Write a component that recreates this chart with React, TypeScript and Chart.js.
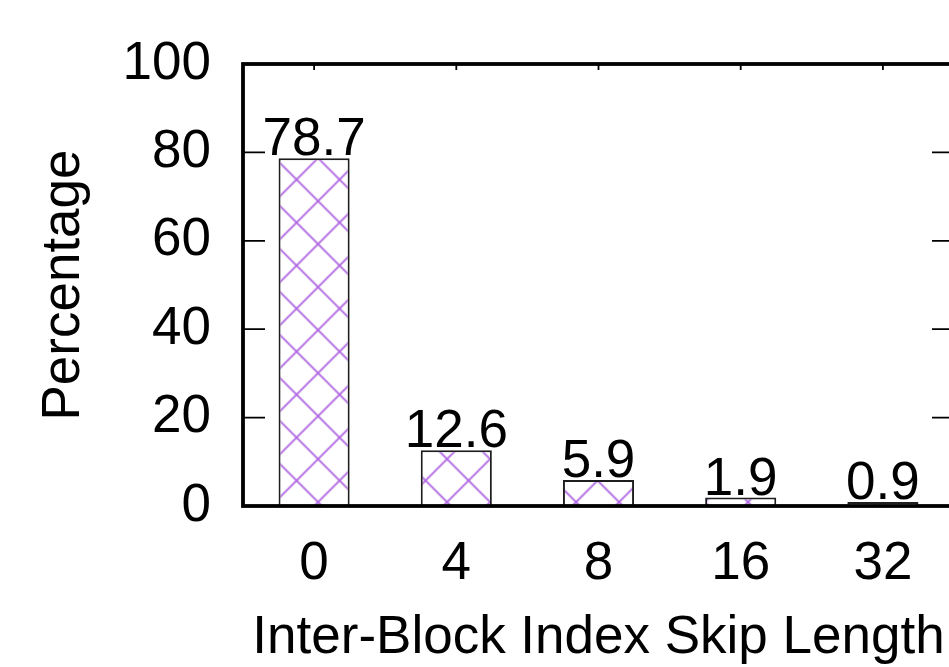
import React, { useEffect, useRef } from "react";
import { Chart, registerables } from "chart.js";

Chart.register(...registerables);

// Skip-length buckets and the share of skips falling in each
const skipLengths = ["0", "4", "8", "16", "32"];
const percentages = [78.7, 12.6, 5.9, 1.9, 0.9];
const yTicks = [0, 20, 40, 60, 80, 100];

const FONT = "'Liberation Sans', Arial, Helvetica, sans-serif";
const HATCH = "#b066e2";

function makeHatch(): CanvasPattern | string {
  const size = 43;
  const tile = document.createElement("canvas");
  tile.width = size;
  tile.height = size;
  const c = tile.getContext("2d");
  if (!c) return "white";
  c.fillStyle = "white";
  c.fillRect(0, 0, size, size);
  c.strokeStyle = HATCH;
  c.lineWidth = 1.8;
  for (let k = -1; k <= 1; k++) {
    c.beginPath();
    c.moveTo(k * size, 0);
    c.lineTo(k * size + size, size);
    c.moveTo(k * size + size, 0);
    c.lineTo(k * size, size);
    c.stroke();
  }
  const p = c.createPattern(tile, "repeat");
  if (!p) return "white";
  p.setTransform(new DOMMatrix().translate(38.5, 7.5));
  return p;
}

// Frame with inward ticks, gnuplot style, drawn over the bars
const framePlugin = {
  id: "frame",
  afterDatasetsDraw(chart: any) {
    const { ctx, chartArea: a, scales } = chart;
    const y = scales.y;
    const x = scales.x;
    ctx.save();
    ctx.strokeStyle = "#000";
    ctx.lineWidth = 1.8;
    ctx.beginPath();
    yTicks.forEach((v) => {
      const py = y.getPixelForValue(v);
      ctx.moveTo(a.left, py);
      ctx.lineTo(a.left + 22, py);
      ctx.moveTo(a.right, py);
      ctx.lineTo(a.right - 22, py);
    });
    skipLengths.forEach((_, i) => {
      const px = x.getPixelForValue(i);
      ctx.moveTo(px, a.top);
      ctx.lineTo(px, a.top + 6);
    });
    ctx.stroke();
    ctx.lineWidth = 3.8;
    ctx.strokeRect(a.left, a.top, a.right - a.left, a.bottom - a.top);
    ctx.restore();
  },
};

// Value printed above each bar
const valueLabelPlugin = {
  id: "valueLabels",
  afterDatasetsDraw(chart: any) {
    const { ctx } = chart;
    const meta = chart.getDatasetMeta(0);
    ctx.save();
    ctx.font = `53px ${FONT}`;
    ctx.fillStyle = "#000";
    ctx.textAlign = "center";
    ctx.textBaseline = "alphabetic";
    meta.data.forEach((bar: any, i: number) => {
      ctx.fillText(percentages[i].toFixed(1), bar.x, bar.y - 3);
    });
    ctx.restore();
  },
};

export default function App() {
  const ref = useRef<HTMLCanvasElement>(null);

  useEffect(() => {
    if (!ref.current) return;
    const chart = new Chart(ref.current, {
      type: "bar",
      data: {
        labels: skipLengths,
        datasets: [
          {
            data: percentages,
            backgroundColor: makeHatch() as any,
            borderColor: "#1e1e1e",
            borderWidth: 2,
            barPercentage: 0.5,
            categoryPercentage: 1,
          },
        ],
      },
      options: {
        responsive: false,
        animation: false,
        devicePixelRatio: 1,
        layout: { padding: { top: 64, right: 6, left: 0, bottom: 0 } },
        plugins: {
          legend: { display: false },
          tooltip: { enabled: false },
        },
        scales: {
          x: {
            grid: { display: false, drawTicks: false },
            border: { display: false },
            ticks: {
              color: "#000",
              font: { family: FONT, size: 53 },
              padding: 27,
              maxRotation: 0,
            },
            title: {
              display: true,
              text: "Inter-Block Index Skip Length",
              color: "#000",
              font: { family: FONT, size: 53, lineHeight: 1 },
              padding: { top: 0, bottom: 2 },
            },
            afterFit(scale: any) {
              scale.height = 161;
            },
          },
          y: {
            min: 0,
            max: 100,
            grid: { display: false, drawTicks: false },
            border: { display: false },
            ticks: {
              stepSize: 20,
              color: "#000",
              font: { family: FONT, size: 53 },
              padding: 32,
            },
            title: {
              display: true,
              text: "Percentage",
              color: "#000",
              font: { family: FONT, size: 53, lineHeight: 1.2 },
              padding: { top: 33, bottom: 0 },
            },
            afterFit(scale: any) {
              scale.width = 243;
            },
          },
        },
      },
      plugins: [framePlugin, valueLabelPlugin],
    });
    return () => chart.destroy();
  }, []);

  return (
    <div
      style={{
        position: "fixed",
        left: 0,
        top: 0,
        width: 949,
        height: 667,
        overflow: "hidden",
        background: "#fff",
      }}
    >
      <canvas ref={ref} width={960} height={667} style={{ display: "block" }} />
    </div>
  );
}
